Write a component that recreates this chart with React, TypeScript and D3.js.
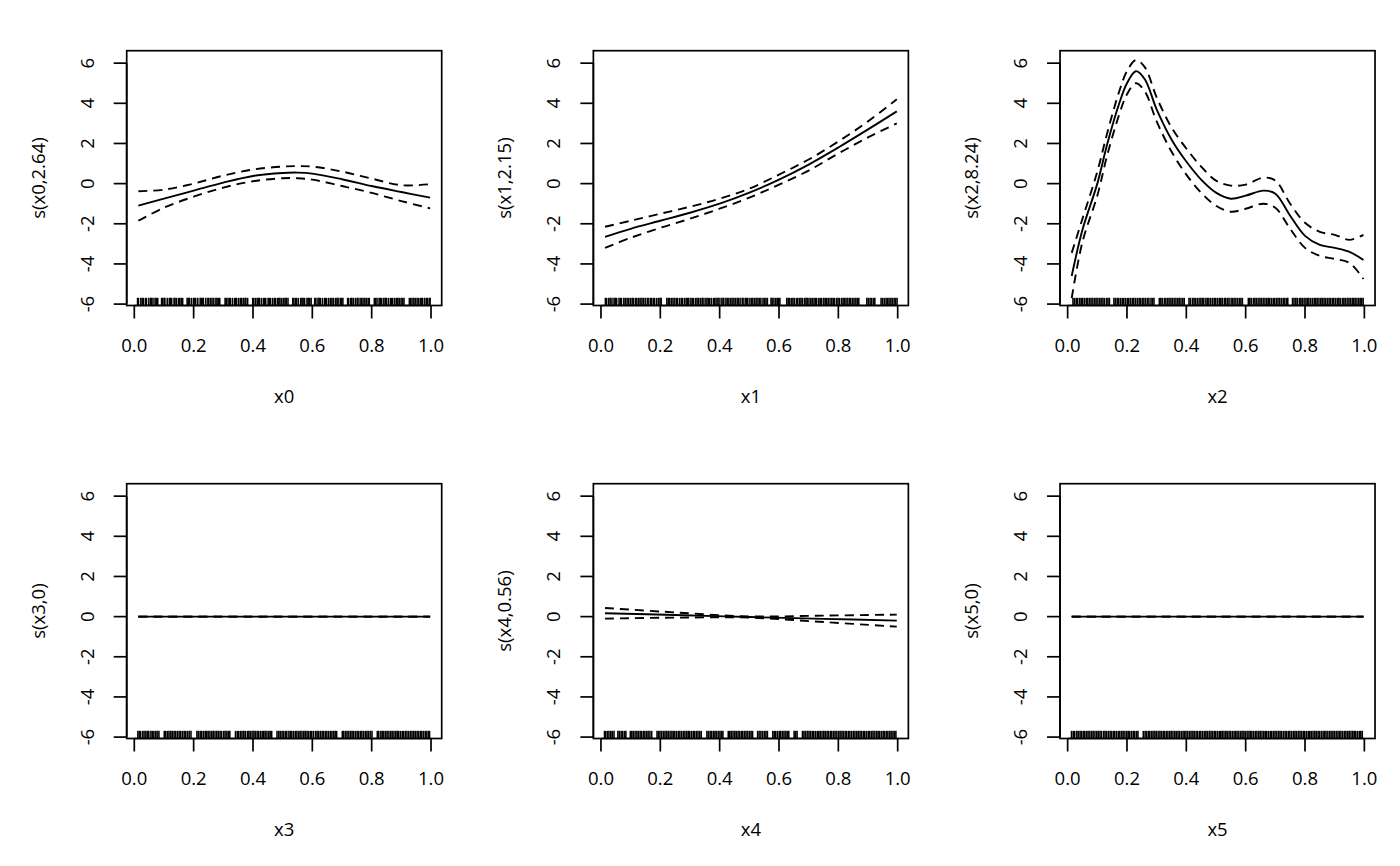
import React from 'react';
import * as d3 from 'd3';

const W = 1400;
const H = 866;

const xTicks = [0, 0.2, 0.4, 0.6, 0.8, 1.0];
const yTicks = [-6, -4, -2, 0, 2, 4, 6];
const xTitles = ['x0', 'x1', 'x2', 'x3', 'x4', 'x5'];
const yTitles = ['s(x0,2.64)', 's(x1,2.15)', 's(x2,8.24)', 's(x3,0)', 's(x4,0.56)', 's(x5,0)'];

// smooth 0
const s0X = [0.0137, 0.1, 0.2, 0.3, 0.4, 0.5, 0.55, 0.6, 0.7, 0.8, 0.9, 0.997];
const s0Fit = [-1.1, -0.75, -0.35, 0.05, 0.38, 0.53, 0.55, 0.5, 0.22, -0.12, -0.42, -0.7];
const s0Up = [-0.38, -0.3, 0.0, 0.4, 0.7, 0.85, 0.87, 0.85, 0.6, 0.25, -0.08, -0.03];
const s0Lo = [-1.85, -1.2, -0.65, -0.2, 0.12, 0.27, 0.27, 0.2, -0.12, -0.46, -0.87, -1.23];

// smooth 1
const s1X = [0.0137, 0.1, 0.2, 0.3, 0.4, 0.5, 0.6, 0.7, 0.8, 0.9, 0.997];
const s1Fit = [-2.65, -2.25, -1.85, -1.45, -1.0, -0.45, 0.2, 0.95, 1.8, 2.7, 3.6];
const s1Up = [-2.15, -1.85, -1.5, -1.15, -0.75, -0.25, 0.45, 1.2, 2.1, 3.1, 4.2];
const s1Lo = [-3.2, -2.7, -2.2, -1.75, -1.25, -0.7, -0.05, 0.65, 1.5, 2.3, 3.0];

// smooth 2
const s2X = [0.0137, 0.05, 0.1, 0.134, 0.174, 0.2, 0.23, 0.26, 0.3, 0.35, 0.4, 0.45, 0.5, 0.55, 0.6, 0.66, 0.7, 0.75, 0.8, 0.85, 0.9, 0.95, 0.997];
const s2Fit = [-4.6, -2.3, 0.0, 2.0, 4.0, 5.0, 5.6, 5.2, 3.7, 2.2, 1.1, 0.2, -0.45, -0.75, -0.6, -0.35, -0.5, -1.6, -2.6, -3.05, -3.2, -3.4, -3.8];
const s2Up = [-3.45, -1.75, 0.6, 2.55, 4.6, 5.6, 6.15, 5.8, 4.3, 2.8, 1.75, 0.85, 0.15, -0.1, -0.05, 0.3, 0.15, -1.0, -1.95, -2.4, -2.55, -2.8, -2.55];
const s2Lo = [-5.7, -2.9, -0.6, 1.45, 3.45, 4.45, 5.0, 4.6, 3.1, 1.6, 0.45, -0.45, -1.1, -1.4, -1.25, -1.0, -1.2, -2.25, -3.2, -3.6, -3.75, -3.95, -4.75];

// smooth 3
const s3X = [0.0137, 0.997];
const s3Fit = [0, 0];
const s3Up = [0, 0];
const s3Lo = [0, 0];

// smooth 4
const s4X = [0.0137, 0.25, 0.5, 0.75, 0.997];
const s4Fit = [0.17, 0.08, -0.02, -0.11, -0.2];
const s4Up = [0.43, 0.21, 0.01, 0.05, 0.1];
const s4Lo = [-0.1, -0.05, -0.05, -0.27, -0.5];

// smooth 5
const s5X = [0.0137, 0.997];
const s5Fit = [0, 0];
const s5Up = [0, 0];
const s5Lo = [0, 0];

const rug0 = [0.011,0.014,0.022,0.027,0.031,0.038,0.041,0.049,0.055,0.057,0.063,0.070,0.074,0.079,0.092,0.096,0.101,0.103,0.111,0.118,0.121,0.126,0.134,0.137,0.142,0.149,0.153,0.158,0.163,0.178,0.183,0.185,0.192,0.199,0.204,0.207,0.214,0.222,0.226,0.231,0.233,0.241,0.248,0.251,0.257,0.262,0.268,0.275,0.279,0.284,0.288,0.306,0.310,0.316,0.321,0.324,0.331,0.338,0.342,0.345,0.352,0.358,0.361,0.367,0.373,0.376,0.382,0.399,0.402,0.408,0.414,0.419,0.421,0.428,0.435,0.439,0.443,0.451,0.455,0.459,0.466,0.472,0.475,0.482,0.487,0.491,0.497,0.503,0.508,0.512,0.518,0.534,0.538,0.544,0.547,0.553,0.561,0.565,0.569,0.574,0.582,0.586,0.591,0.596,0.608,0.612,0.619,0.623,0.627,0.634,0.641,0.645,0.648,0.655,0.661,0.666,0.671,0.678,0.683,0.687,0.694,0.698,0.703,0.719,0.722,0.729,0.733,0.738,0.745,0.751,0.754,0.761,0.766,0.771,0.777,0.782,0.788,0.792,0.809,0.813,0.818,0.825,0.829,0.834,0.841,0.846,0.849,0.856,0.863,0.867,0.871,0.878,0.884,0.888,0.893,0.899,0.904,0.909,0.927,0.931,0.936,0.942,0.947,0.953,0.958,0.964,0.969,0.972,0.979,0.985,0.988,0.994,0.997];

const rug1 = [0.015,0.019,0.026,0.031,0.037,0.044,0.048,0.053,0.061,0.066,0.069,0.077,0.082,0.088,0.093,0.099,0.105,0.109,0.116,0.121,0.127,0.132,0.138,0.143,0.149,0.156,0.159,0.166,0.171,0.177,0.181,0.188,0.194,0.199,0.203,0.222,0.227,0.232,0.238,0.243,0.249,0.255,0.258,0.265,0.271,0.274,0.281,0.287,0.291,0.296,0.303,0.308,0.312,0.319,0.324,0.329,0.335,0.341,0.344,0.351,0.357,0.362,0.366,0.372,0.379,0.383,0.388,0.394,0.398,0.405,0.411,0.414,0.421,0.426,0.431,0.437,0.442,0.448,0.453,0.459,0.463,0.469,0.476,0.479,0.486,0.491,0.495,0.502,0.508,0.512,0.518,0.523,0.529,0.534,0.539,0.546,0.551,0.556,0.561,0.573,0.577,0.583,0.589,0.594,0.599,0.603,0.626,0.631,0.636,0.642,0.647,0.652,0.659,0.663,0.669,0.674,0.679,0.686,0.691,0.695,0.701,0.707,0.712,0.718,0.723,0.727,0.734,0.739,0.744,0.751,0.756,0.761,0.766,0.772,0.778,0.783,0.787,0.794,0.799,0.804,0.811,0.816,0.821,0.826,0.832,0.838,0.842,0.848,0.853,0.859,0.864,0.869,0.896,0.901,0.907,0.912,0.918,0.923,0.944,0.949,0.955,0.961,0.966,0.971,0.977,0.982,0.988,0.993,0.998];

const rug2 = [0.018,0.023,0.029,0.034,0.041,0.046,0.051,0.057,0.063,0.068,0.074,0.079,0.085,0.091,0.096,0.102,0.108,0.113,0.119,0.124,0.131,0.136,0.141,0.156,0.161,0.167,0.172,0.178,0.184,0.189,0.195,0.201,0.206,0.212,0.218,0.223,0.229,0.235,0.241,0.246,0.252,0.257,0.263,0.269,0.274,0.281,0.286,0.291,0.309,0.314,0.319,0.326,0.331,0.337,0.342,0.348,0.353,0.359,0.365,0.371,0.376,0.382,0.388,0.393,0.409,0.414,0.421,0.426,0.431,0.437,0.443,0.449,0.454,0.459,0.466,0.471,0.476,0.482,0.488,0.494,0.499,0.505,0.511,0.516,0.521,0.528,0.533,0.539,0.544,0.551,0.556,0.561,0.567,0.573,0.579,0.584,0.589,0.609,0.614,0.619,0.626,0.631,0.636,0.642,0.648,0.653,0.659,0.665,0.671,0.676,0.681,0.687,0.693,0.698,0.704,0.709,0.715,0.721,0.727,0.732,0.738,0.742,0.758,0.763,0.769,0.774,0.781,0.786,0.791,0.797,0.803,0.808,0.813,0.819,0.825,0.831,0.836,0.841,0.847,0.853,0.858,0.864,0.869,0.875,0.881,0.886,0.892,0.897,0.903,0.909,0.914,0.919,0.926,0.931,0.936,0.942,0.948,0.953,0.959,0.964,0.969,0.975,0.981,0.986,0.991,0.996];

const rug3 = [0.012,0.017,0.021,0.028,0.033,0.039,0.044,0.049,0.056,0.061,0.066,0.072,0.077,0.083,0.101,0.106,0.112,0.117,0.123,0.128,0.134,0.139,0.145,0.151,0.156,0.162,0.168,0.173,0.179,0.185,0.191,0.211,0.216,0.222,0.227,0.233,0.239,0.244,0.249,0.255,0.261,0.266,0.272,0.278,0.283,0.289,0.294,0.301,0.306,0.312,0.317,0.322,0.341,0.347,0.352,0.358,0.363,0.369,0.374,0.381,0.386,0.391,0.397,0.403,0.408,0.414,0.419,0.425,0.431,0.436,0.441,0.447,0.453,0.458,0.463,0.481,0.487,0.492,0.498,0.503,0.509,0.514,0.521,0.526,0.531,0.537,0.543,0.548,0.554,0.559,0.565,0.571,0.576,0.582,0.587,0.593,0.598,0.604,0.611,0.616,0.621,0.627,0.633,0.638,0.644,0.649,0.655,0.661,0.666,0.672,0.677,0.682,0.701,0.706,0.712,0.717,0.723,0.729,0.734,0.739,0.745,0.751,0.756,0.762,0.767,0.773,0.779,0.784,0.789,0.795,0.801,0.819,0.824,0.831,0.836,0.841,0.847,0.852,0.858,0.864,0.869,0.875,0.881,0.886,0.891,0.897,0.903,0.908,0.914,0.919,0.925,0.931,0.936,0.942,0.947,0.953,0.958,0.964,0.969,0.975,0.981,0.986,0.992,0.995];

const rug4 = [0.012,0.016,0.022,0.027,0.033,0.038,0.044,0.057,0.062,0.068,0.073,0.079,0.084,0.099,0.104,0.109,0.115,0.121,0.126,0.132,0.137,0.143,0.148,0.154,0.159,0.165,0.171,0.189,0.194,0.199,0.205,0.211,0.216,0.222,0.227,0.233,0.239,0.244,0.249,0.255,0.261,0.266,0.272,0.278,0.283,0.289,0.294,0.299,0.305,0.311,0.316,0.322,0.327,0.333,0.338,0.357,0.362,0.368,0.373,0.379,0.384,0.389,0.395,0.401,0.406,0.411,0.429,0.434,0.439,0.445,0.451,0.456,0.462,0.467,0.473,0.478,0.484,0.489,0.495,0.501,0.506,0.511,0.528,0.533,0.539,0.545,0.551,0.556,0.561,0.579,0.584,0.589,0.595,0.601,0.606,0.612,0.617,0.623,0.628,0.633,0.651,0.656,0.661,0.679,0.684,0.689,0.695,0.701,0.706,0.712,0.717,0.723,0.729,0.734,0.739,0.745,0.751,0.756,0.762,0.767,0.773,0.778,0.784,0.789,0.795,0.801,0.806,0.812,0.817,0.823,0.828,0.834,0.839,0.845,0.851,0.856,0.862,0.867,0.873,0.878,0.884,0.889,0.895,0.901,0.906,0.912,0.917,0.923,0.929,0.934,0.939,0.945,0.951,0.956,0.962,0.967,0.973,0.978,0.984,0.989,0.994];

const rug5 = [0.013,0.019,0.024,0.031,0.036,0.042,0.047,0.053,0.058,0.064,0.069,0.075,0.081,0.086,0.092,0.098,0.103,0.109,0.114,0.121,0.126,0.131,0.137,0.143,0.148,0.154,0.159,0.165,0.171,0.176,0.182,0.187,0.193,0.199,0.204,0.209,0.215,0.221,0.226,0.232,0.237,0.255,0.261,0.266,0.272,0.277,0.283,0.288,0.294,0.299,0.305,0.311,0.316,0.322,0.327,0.333,0.338,0.344,0.349,0.355,0.361,0.366,0.372,0.377,0.383,0.389,0.394,0.399,0.405,0.411,0.416,0.422,0.427,0.433,0.438,0.444,0.449,0.455,0.461,0.466,0.471,0.477,0.483,0.488,0.494,0.499,0.505,0.511,0.516,0.521,0.527,0.533,0.538,0.544,0.549,0.555,0.561,0.566,0.571,0.577,0.583,0.588,0.594,0.599,0.605,0.611,0.616,0.621,0.627,0.633,0.638,0.644,0.649,0.655,0.661,0.666,0.671,0.677,0.683,0.688,0.694,0.699,0.705,0.711,0.716,0.721,0.727,0.733,0.738,0.744,0.749,0.755,0.761,0.766,0.771,0.777,0.783,0.788,0.794,0.799,0.805,0.811,0.816,0.821,0.827,0.833,0.838,0.844,0.849,0.855,0.861,0.866,0.871,0.877,0.883,0.888,0.894,0.899,0.905,0.911,0.916,0.921,0.927,0.933,0.938,0.944,0.949,0.955,0.961,0.966,0.971,0.977,0.983,0.988,0.993];

type Smooth = { x: number[]; fit: number[]; up: number[]; lo: number[]; rug: number[] };
const smooths: Smooth[] = [
  { x: s0X, fit: s0Fit, up: s0Up, lo: s0Lo, rug: rug0 },
  { x: s1X, fit: s1Fit, up: s1Up, lo: s1Lo, rug: rug1 },
  { x: s2X, fit: s2Fit, up: s2Up, lo: s2Lo, rug: rug2 },
  { x: s3X, fit: s3Fit, up: s3Up, lo: s3Lo, rug: rug3 },
  { x: s4X, fit: s4Fit, up: s4Up, lo: s4Lo, rug: rug4 },
  { x: s5X, fit: s5Fit, up: s5Up, lo: s5Lo, rug: rug5 },
];

const FONT = "'Open Sans', 'Noto Sans', sans-serif";
const FS = 18.5;

function Panel({ i }: { i: number }) {
  const col = i % 3;
  const row = Math.floor(i / 3);
  const left = col * (W / 3) + 126.7;
  const right = left + 315;
  const top = row * (H / 2) + 50.7;
  const bottom = top + 254.8;
  const sm = smooths[i];
  const x = d3.scaleLinear().domain([-0.0256, 1.036]).range([left, right]);
  const y = d3.scaleLinear().domain([-6.07, 6.62]).range([bottom, top]);
  const line = d3
    .line<number>()
    .x((_, k) => x(sm.x[k]))
    .curve(d3.curveCatmullRom.alpha(0.5));
  const pathFor = (vals: number[]) => line.y((v) => y(v))(vals) || '';
  const rugLen = 0.03 * (bottom - top);
  const tick = 13;
  const cx = (left + right) / 2;
  const cy = (top + bottom) / 2;
  return (
    <g>
      {sm.rug.map((r, k) => (
        <line key={'r' + k} x1={x(r)} x2={x(r)} y1={bottom} y2={bottom - rugLen} stroke="#000" strokeWidth={1.55} />
      ))}
      <path d={pathFor(sm.fit)} fill="none" stroke="#000" strokeWidth={1.9} />
      <path d={pathFor(sm.up)} fill="none" stroke="#000" strokeWidth={1.9} strokeDasharray="9,6" />
      <path d={pathFor(sm.lo)} fill="none" stroke="#000" strokeWidth={1.9} strokeDasharray="9,6" />
      <rect x={left} y={top} width={right - left} height={bottom - top} fill="none" stroke="#000" strokeWidth={1.7} />
      <line x1={x(xTicks[0])} x2={x(xTicks[xTicks.length - 1])} y1={bottom} y2={bottom} stroke="#000" strokeWidth={1.7} />
      {xTicks.map((t) => (
        <g key={'xt' + t}>
          <line x1={x(t)} x2={x(t)} y1={bottom} y2={bottom + tick} stroke="#000" strokeWidth={1.7} />
          <text x={x(t)} y={bottom + 46.5} textAnchor="middle" fontFamily={FONT} fontSize={FS} fill="#000">
            {t.toFixed(1)}
          </text>
        </g>
      ))}
      <line x1={left} x2={left} y1={y(yTicks[0])} y2={y(yTicks[yTicks.length - 1])} stroke="#000" strokeWidth={1.7} />
      {yTicks.map((t) => (
        <g key={'yt' + t}>
          <line x1={left} x2={left - tick} y1={y(t)} y2={y(t)} stroke="#000" strokeWidth={1.7} />
          <text
            transform={`translate(${left - 33},${y(t)}) rotate(-90)`}
            textAnchor="middle"
            fontFamily={FONT}
            fontSize={FS}
            fill="#000"
          >
            {String(t)}
          </text>
        </g>
      ))}
      <text x={cx} y={bottom + 97} textAnchor="middle" fontFamily={FONT} fontSize={FS} fill="#000">
        {xTitles[i]}
      </text>
      <text
        transform={`translate(${left - 82},${cy}) rotate(-90)`}
        textAnchor="middle"
        fontFamily={FONT}
        fontSize={FS}
        fill="#000"
      >
        {yTitles[i]}
      </text>
    </g>
  );
}

export default function App() {
  return (
    <svg
      width={W}
      height={H}
      viewBox={`0 0 ${W} ${H}`}
      style={{ position: 'absolute', left: 0, top: 0, background: '#fff' }}
    >
      <rect x={0} y={0} width={W} height={H} fill="#fff" />
      {[0, 1, 2, 3, 4, 5].map((i) => (
        <Panel key={i} i={i} />
      ))}
    </svg>
  );
}
